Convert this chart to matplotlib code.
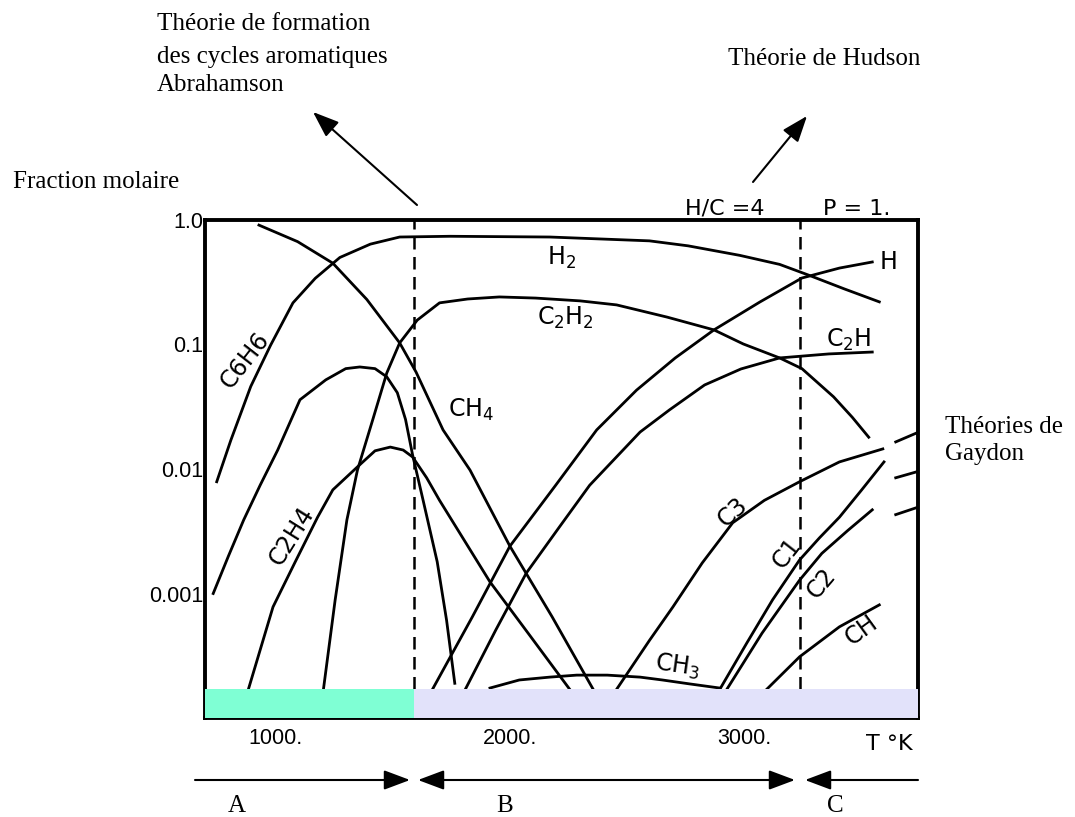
import matplotlib
matplotlib.use('Agg')
import matplotlib.pyplot as plt
from matplotlib.ticker import FixedLocator, NullLocator

# temperatures (K) et fractions molaires
h2_T = [750, 810, 895, 980, 1075, 1170, 1275, 1405, 1530, 1745, 2170, 2595, 2760, 2980, 3150, 3275, 3425, 3575]
h2_x = [0.0079, 0.017, 0.046, 0.099, 0.216, 0.34, 0.50, 0.64, 0.73, 0.74, 0.73, 0.68, 0.62, 0.52, 0.44, 0.36, 0.28, 0.22]

c6h6_T = [735, 800, 865, 935, 1010, 1105, 1215, 1300, 1360, 1425, 1475, 1520, 1555, 1585, 1630, 1690, 1730, 1765]
c6h6_x = [0.0010, 0.0020, 0.0039, 0.0074, 0.0142, 0.036, 0.052, 0.064, 0.066, 0.064, 0.055, 0.041, 0.025, 0.013, 0.0056, 0.0018, 0.00061, 0.00019]

c2h4_T = [885, 990, 1085, 1180, 1245, 1350, 1425, 1490, 1545, 1585, 1645, 1700, 1915, 2085, 2255]
c2h4_x = [0.00017, 0.00078, 0.0018, 0.0041, 0.0068, 0.0104, 0.0140, 0.0150, 0.0142, 0.0125, 0.0085, 0.0056, 0.00124, 0.00046, 0.00017]

ch4_T = [930, 1095, 1245, 1390, 1530, 1600, 1715, 1830, 2000, 2180, 2355]
ch4_x = [0.91, 0.67, 0.45, 0.23, 0.103, 0.060, 0.0206, 0.0098, 0.0024, 0.00065, 0.00017]

c2h2_T = [1205, 1255, 1305, 1350, 1415, 1475, 1530, 1605, 1700, 1820, 1955, 2110, 2300, 2455, 2670, 2870, 2995, 3150, 3245, 3380, 3460, 3530]
c2h2_x = [0.00017, 0.00089, 0.0039, 0.0098, 0.0248, 0.059, 0.103, 0.157, 0.216, 0.232, 0.241, 0.236, 0.224, 0.208, 0.166, 0.131, 0.101, 0.078, 0.064, 0.038, 0.026, 0.018]

h_T = [1670, 1840, 2000, 2195, 2370, 2540, 2705, 2870, 3065, 3245, 3405, 3545]
h_x = [0.00017, 0.00065, 0.0024, 0.0074, 0.0206, 0.043, 0.078, 0.131, 0.219, 0.342, 0.411, 0.46]

c2h_T = [1810, 1940, 2070, 2210, 2340, 2555, 2680, 2830, 2985, 3150, 3360, 3545]
c2h_x = [0.00017, 0.00051, 0.00146, 0.0034, 0.0074, 0.0198, 0.0298, 0.0473, 0.0636, 0.078, 0.084, 0.087]

ch3_T = [1915, 2040, 2170, 2285, 2415, 2555, 2650, 2765, 2895]
ch3_x = [0.000174, 0.000202, 0.000213, 0.000221, 0.000221, 0.000213, 0.000202, 0.000188, 0.000174]

c3_T = [2455, 2595, 2695, 2820, 2950, 3085, 3235, 3405, 3590]
c3_x = [0.00017, 0.00042, 0.00078, 0.00176, 0.0037, 0.0056, 0.0079, 0.0114, 0.0145]

c1_T = [2895, 3010, 3120, 3235, 3320, 3405, 3500, 3595]
c1_x = [0.00017, 0.0004, 0.00089, 0.00186, 0.0028, 0.0041, 0.0068, 0.0114]

c2_T = [2925, 3075, 3235, 3330, 3440, 3545]
c2_x = [0.00017, 0.00048, 0.00128, 0.0021, 0.0032, 0.0047]

ch_T = [3095, 3235, 3405, 3575]
ch_x = [0.00017, 0.00031, 0.00054, 0.00081]

# petits traits vers les theories de Gaydon
gaydon_T = [3645, 3735]
gaydon_x = [[0.0165, 0.0195], [0.0085, 0.0095], [0.0043, 0.0049]]

# limites des zones A / B / C
T_AB = 1590
T_BC = 3235
band_top = 0.00017

x_ticks = [1000, 2000, 3000]
x_labels = ['1000.', '2000.', '3000.']
y_ticks = [0.001, 0.01, 0.1, 1.0]
y_labels = ['0.001', '0.01', '0.1', '1.0']

plt.rcParams['font.family'] = ['Liberation Sans', 'DejaVu Sans']
SERIF = ['Liberation Serif', 'DejaVu Serif']

W, H = 1075, 817
fig = plt.figure(figsize=(W / 100, H / 100), dpi=100)
ax = fig.add_axes([205 / W, 1 - 718 / H, 713 / W, 498 / H])
ax.set_yscale('log')
ax.set_xlim(700, 3740)
ax.set_ylim(1e-4, 1.0)

curves = [(h2_T, h2_x), (c6h6_T, c6h6_x), (c2h4_T, c2h4_x), (ch4_T, ch4_x),
          (c2h2_T, c2h2_x), (h_T, h_x), (c2h_T, c2h_x), (ch3_T, ch3_x),
          (c3_T, c3_x), (c1_T, c1_x), (c2_T, c2_x), (ch_T, ch_x)]
for T, x in curves:
    ax.plot(T, x, color='k', lw=2.0, solid_joinstyle='round')
for xs in gaydon_x:
    ax.plot(gaydon_T, xs, color='k', lw=2.0, clip_on=False)

# bandes colorees en bas
ax.fill_between([700, T_AB], 1e-4, band_top, color='#7FFFD4', lw=0, zorder=3)
ax.fill_between([T_AB, 3740], 1e-4, band_top, color='#E2E2FA', lw=0, zorder=3)

for t in (T_AB, T_BC):
    ax.plot([t, t], [band_top, 1.0], color='k', lw=1.8, ls=(0, (5, 3)))

ax.yaxis.set_major_locator(FixedLocator(y_ticks))
ax.yaxis.set_minor_locator(NullLocator())
ax.set_yticklabels(y_labels)
ax.set_xticks(x_ticks)
ax.set_xticklabels(x_labels)
ax.tick_params(length=0, labelsize=15.5)
ax.tick_params(axis='x', pad=7)
ax.tick_params(axis='y', pad=1)
for s in ax.spines.values():
    s.set_linewidth(2.8)

# noms des especes
lab = dict(fontsize=17, ha='center', va='center', family=['DejaVu Sans'])
ax.text(2220, 0.50, r'$\mathregular{H_2}$', **lab)
ax.text(2235, 0.163, r'$\mathregular{C_2H_2}$', **lab)
ax.text(1835, 0.030, r'$\mathregular{CH_4}$', **lab)
ax.text(872, 0.075, 'C6H6', rotation=52, **lab)
ax.text(1070, 0.0029, 'C2H4', rotation=58, **lab)
ax.text(3615, 0.46, 'H', **lab)
ax.text(3445, 0.109, r'$\mathregular{C_2H}$', **lab)
ax.text(2950, 0.0045, 'C3', rotation=42, **lab)
ax.text(3180, 0.0021, 'C1', rotation=52, **lab)
ax.text(3330, 0.0012, 'C2', rotation=50, **lab)
ax.text(3500, 0.00051, 'CH', rotation=36, **lab)
ax.text(2715, 0.00026, r'$\mathregular{CH_3}$', rotation=-8, **lab)


def fpx(x, y):
    return x / W, 1 - y / H


ser = dict(family=SERIF, fontsize=18, va='baseline')
fig.text(*fpx(157, 30), 'Théorie de formation', **ser)
fig.text(*fpx(157, 63), 'des cycles aromatiques', **ser)
fig.text(*fpx(157, 91), 'Abrahamson', **ser)
fig.text(*fpx(13, 188), 'Fraction molaire', **ser)
fig.text(*fpx(728, 65), 'Théorie de Hudson', **ser)
fig.text(*fpx(945, 433), 'Théories de', **ser)
fig.text(*fpx(945, 460), 'Gaydon', **ser)
fig.text(*fpx(237, 812), 'A', ha='center', **ser)
fig.text(*fpx(505, 812), 'B', ha='center', **ser)
fig.text(*fpx(835, 812), 'C', ha='center', **ser)

sans = dict(fontsize=16, va='baseline', family=['DejaVu Sans'])
fig.text(*fpx(685, 215), 'H/C =4', **sans)
fig.text(*fpx(823, 215), 'P = 1.', **sans)
fig.text(*fpx(866, 750), 'T °K', **sans)

# fleches
head = dict(arrowstyle='-|>,head_length=0.8,head_width=0.3', mutation_scale=20,
            color='k', lw=1.5, shrinkA=0, shrinkB=0)
both = dict(head, arrowstyle='<|-|>,head_length=0.8,head_width=0.3')
fp = 'figure pixels'
fig_ann = [((313, 112), (417, 205), head), ((807, 116), (753, 182), head),
           ((410, 780), (195, 780), head), ((418, 780), (795, 780), both),
           ((805, 780), (918, 780), head)]
for (xh, yh), (xt, yt), props in fig_ann:
    ax.annotate('', xy=(xh, H - yh), xycoords=fp, xytext=(xt, H - yt),
                textcoords=fp, arrowprops=props, annotation_clip=False)

fig.savefig('out.png', dpi=100)
